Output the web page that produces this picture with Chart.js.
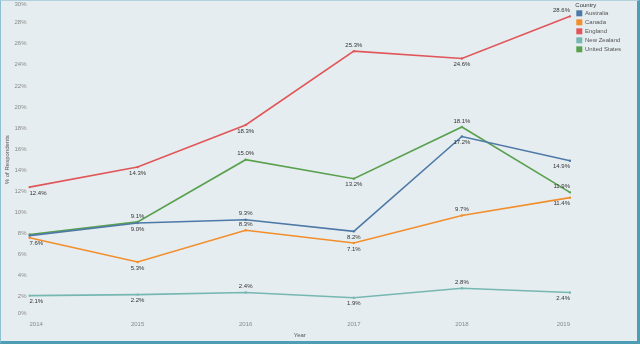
<!DOCTYPE html>
<html><head><meta charset="utf-8">
<script src="https://cdn.jsdelivr.net/npm/chart.js@4"></script>
<style>
html,body{margin:0;padding:0;background:#fff;}
#wrap{position:relative;width:640px;height:344px;background:#e6edf0;overflow:hidden;}
#frame{position:absolute;left:0;top:0;width:640px;height:344px;box-sizing:border-box;border-top:1px solid #b3d2de;border-left:1px solid #8ec0d0;border-right:3px solid #4f9db5;border-bottom:3px solid #4f9db5;pointer-events:none;}
canvas{position:absolute;left:0;top:0;}
</style></head><body>
<div id="wrap"><canvas id="c" width="640" height="344"></canvas><div id="frame"></div></div>
<script>
const years = ['2014','2015','2016','2017','2018','2019'];
const countries = ['Australia','Canada','England','New Zealand','United States'];
const australia = [7.8, 9.0, 9.3, 8.2, 17.2, 14.9];
const canada = [7.6, 5.3, 8.3, 7.1, 9.7, 11.4];
const england = [12.4, 14.3, 18.3, 25.3, 24.6, 28.6];
const newZealand = [2.1, 2.2, 2.4, 1.9, 2.8, 2.4];
const unitedStates = [7.9, 9.1, 15.0, 13.2, 18.1, 11.9];
const yTickValues = [0, 2, 4, 6, 8, 10, 12, 14, 16, 18, 20, 22, 24, 26, 28, 30];

// label placement per point: 'a' above, 'b' below, null hidden
const placeAustralia = [null, 'b', 'a', 'b', 'b', 'b'];
const placeCanada = ['b', 'b', 'a', 'b', 'a', 'b'];
const placeEngland = ['b', 'b', 'b', 'a', 'b', 'a'];
const placeNewZealand = ['b', 'b', 'a', 'b', 'a', 'b'];
const placeUnitedStates = [null, 'a', 'a', 'b', 'a', 'a'];

const colors = ['#4e79a7', '#f28e2b', '#e15759', '#76b7b2', '#59a14f'];
const seriesData = [australia, canada, england, newZealand, unitedStates];
const placements = [placeAustralia, placeCanada, placeEngland, placeNewZealand, placeUnitedStates];
const FONT = '"Liberation Sans", Arial, sans-serif';

const datasets = countries.map((name, i) => ({
  label: name,
  data: seriesData[i],
  borderColor: colors[i],
  backgroundColor: colors[i],
  borderWidth: 1.6,
  pointRadius: 1.2,
  pointHoverRadius: 1.2,
  pointBorderWidth: 0,
  tension: 0,
  fill: false,
  place: placements[i]
}));

const overlay = {
  id: 'overlay',
  afterDraw(chart) {
    const ctx = chart.ctx;
    const area = chart.chartArea;
    const ys = chart.scales.y;
    ctx.save();
    // y tick labels (clamped inside pane like the original)
    ctx.font = '6px ' + FONT;
    ctx.fillStyle = '#8a8a8a';
    ctx.textAlign = 'right';
    ctx.textBaseline = 'middle';
    yTickValues.forEach(v => {
      let y = ys.getPixelForValue(v);
      y = Math.max(area.top + 2.7, Math.min(area.bottom - 4.5, y));
      ctx.fillText(v + '%', 26.5, y);
    });
    // data labels
    ctx.fillStyle = '#333';
    chart.data.datasets.forEach((ds, di) => {
      const meta = chart.getDatasetMeta(di);
      meta.data.forEach((pt, j) => {
        const p = ds.place[j];
        if (!p) return;
        const n = meta.data.length;
        ctx.textAlign = j === 0 ? 'left' : (j === n - 1 ? 'right' : 'center');
        let y = p === 'a' ? pt.y - 6 : pt.y + 6;
        y = Math.max(area.top + 4, Math.min(area.bottom - 4, y));
        ctx.fillText(ds.data[j].toFixed(1) + '%', pt.x, y);
      });
    });
    // legend
    ctx.textAlign = 'left';
    ctx.fillStyle = '#333';
    ctx.fillText('Country', 575.3, 5);
    chart.data.datasets.forEach((ds, i) => {
      const cy = 13.3 + 9 * i;
      ctx.fillStyle = ds.borderColor;
      ctx.fillRect(576.3, cy - 3, 6, 6);
      ctx.fillStyle = '#555';
      ctx.fillText(ds.label, 585, cy);
    });
    ctx.restore();
  }
};

new Chart(document.getElementById('c'), {
  type: 'line',
  data: { labels: years, datasets },
  options: {
    responsive: false,
    animation: false,
    devicePixelRatio: 1,
    layout: { padding: { left: 0, right: 70, top: 1.6, bottom: 0 } },
    plugins: { legend: { display: false }, tooltip: { enabled: false } },
    scales: {
      x: {
        type: 'category',
        offset: false,
        grid: { display: false, drawTicks: false },
        border: { display: false },
        ticks: { align: 'inner', font: { size: 6, family: FONT }, color: '#8a8a8a', padding: 3, maxRotation: 0, autoSkip: false },
        title: { display: true, text: 'Year', font: { size: 6, family: FONT }, color: '#555', padding: { top: 0, bottom: 5.4 } },
        afterFit: s => { s.height = 26.2; s.paddingLeft = 0; s.paddingRight = 0; }
      },
      y: {
        min: 0, max: 30,
        grid: { display: false, drawTicks: false },
        border: { display: false },
        ticks: { display: false, stepSize: 2 },
        title: { display: true, text: '% of Respondents', font: { size: 6, family: FONT }, color: '#555', padding: { top: 3.9, bottom: 0 } },
        afterFit: s => { s.width = 29.5; s.paddingTop = 0; s.paddingBottom = 0; }
      }
    }
  },
  plugins: [overlay]
});
</script>
</body></html>
